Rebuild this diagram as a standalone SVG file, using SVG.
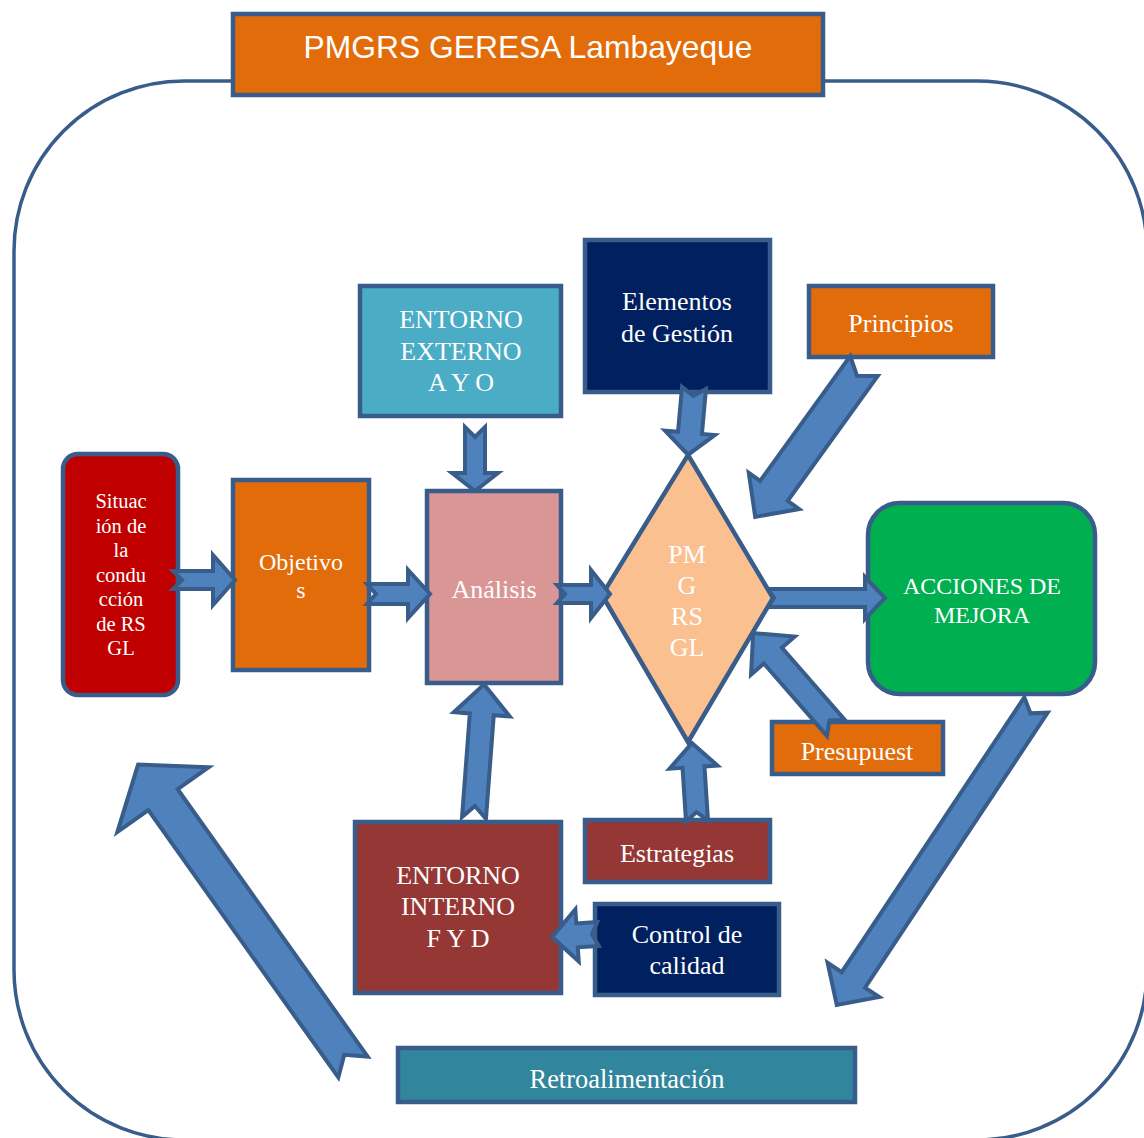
<svg xmlns="http://www.w3.org/2000/svg" width="1144" height="1138" viewBox="0 0 1144 1138">
<style>
.nd{stroke:#385D8A;stroke-width:4.5}
.t{font-family:"Liberation Serif","Times New Roman",serif;fill:#FFFFFF;font-size:26px;text-anchor:middle}
.ar{fill:#4F81BD;stroke:#385D8A;stroke-width:4;stroke-linejoin:miter}
</style>
<rect width="1144" height="1138" fill="#FFFFFF"/>
<rect id="frame" x="14" y="81" width="1133" height="1059" rx="170" ry="170" fill="none" stroke="#385D8A" stroke-width="3.5"/>
<g id="title">
<rect class="nd" x="233" y="14" width="590" height="81" fill="#E36C0A"/>
<text x="528" y="58" style="font-family:'Liberation Sans',Arial,sans-serif;font-size:31.8px;fill:#FFFFFF;text-anchor:middle">PMGRS GERESA Lambayeque</text>
</g>
<g id="situacion">
<rect class="nd" x="63" y="454" width="115" height="241" rx="15" fill="#C00000"/>
<text class="t" style="font-size:20.5px" x="121"><tspan x="121" y="508">Situac</tspan><tspan x="121" y="532.5">ión de</tspan><tspan x="121" y="557">la</tspan><tspan x="121" y="581.5">condu</tspan><tspan x="121" y="606">cción</tspan><tspan x="121" y="630.5">de RS</tspan><tspan x="121" y="655">GL</tspan></text>
</g>
<g id="objetivos">
<rect class="nd" x="233" y="480" width="136" height="190" fill="#E36C0A"/>
<text class="t" style="font-size:24px"><tspan x="301" y="570">Objetivo</tspan><tspan x="301" y="598">s</tspan></text>
</g>
<g id="analisis">
<rect class="nd" x="427" y="491" width="134" height="192" fill="#D99694"/>
<text class="t" x="494" y="598">Análisis</text>
</g>
<g id="entorno-externo">
<rect class="nd" x="360" y="286" width="201" height="130" fill="#4BACC6"/>
<text class="t"><tspan x="461" y="328">ENTORNO</tspan><tspan x="461" y="360">EXTERNO</tspan><tspan x="461" y="391">A Y O</tspan></text>
</g>
<g id="elementos">
<rect class="nd" x="585" y="240" width="185" height="152" fill="#002060"/>
<text class="t"><tspan x="677" y="310">Elementos</tspan><tspan x="677" y="342">de Gestión</tspan></text>
</g>
<g id="principios">
<rect class="nd" x="809" y="286" width="184" height="71" fill="#E36C0A"/>
<text class="t" x="901" y="332">Principios</text>
</g>
<g id="pmgrsgl">
<polygon class="nd" points="688,455 773,598 688,742 602,595" fill="#FAC090" stroke-linejoin="miter"/>
<text class="t"><tspan x="687" y="563">PM</tspan><tspan x="687" y="594">G</tspan><tspan x="687" y="625">RS</tspan><tspan x="687" y="656">GL</tspan></text>
</g>
<g id="acciones">
<rect class="nd" x="868" y="503" width="227" height="191" rx="32" fill="#00B050"/>
<text class="t" style="font-size:24px"><tspan x="982" y="594">ACCIONES DE</tspan><tspan x="982" y="623">MEJORA</tspan></text>
</g>
<g id="presupuesto">
<rect class="nd" x="772" y="722" width="171" height="52" fill="#E36C0A"/>
<text class="t" x="857" y="760">Presupuest</text>
</g>
<g id="estrategias">
<rect class="nd" x="585" y="820" width="185" height="62" fill="#953735"/>
<text class="t" x="677" y="862">Estrategias</text>
</g>
<g id="entorno-interno">
<rect class="nd" x="355" y="822" width="206" height="171" fill="#953735"/>
<text class="t"><tspan x="458" y="884">ENTORNO</tspan><tspan x="458" y="915">INTERNO</tspan><tspan x="458" y="947">F Y D</tspan></text>
</g>
<g id="control">
<rect class="nd" x="595" y="904" width="184" height="91" fill="#002060"/>
<text class="t"><tspan x="687" y="943">Control de</tspan><tspan x="687" y="974">calidad</tspan></text>
</g>
<g id="retroalimentacion">
<rect class="nd" x="398" y="1048" width="457" height="54" fill="#31859C"/>
<text class="t" x="627" y="1088" style="font-size:26.4px">Retroalimentación</text>
</g>
<g id="connectors">
<polygon class="ar" transform="translate(173,580)" points="0,-9 40,-9 40,-25 62,0 40,25 40,9 0,9 9,0"/>
<polygon class="ar" transform="translate(367,594)" points="0,-10 41,-10 41,-24 63,0 41,24 41,10 0,10 9,0"/>
<polygon class="ar" transform="translate(557,594)" points="0,-9 34,-9 34,-24 53,0 34,24 34,9 0,9 8,0"/>
<polygon class="ar" transform="translate(768,598)" points="0,-9 97,-9 97,-21 117,0 97,21 97,9 0,9 6,0"/>
<polygon class="ar" transform="translate(475,427) rotate(90)" points="0,-10 46,-10 46,-23 64,0 46,23 46,10 0,10 10,0"/>
<polygon class="ar" transform="translate(694,388) rotate(95.1)" points="0,-12 45,-12 45,-25 67,0 45,25 45,12 0,12 8,0"/>
<polygon class="ar" transform="translate(864,366) rotate(125.8)" points="0,-17 154,-17 154,-31 186,0 154,31 154,17 0,17 12,0"/>
<polygon class="ar" transform="translate(836,728) rotate(-131.1)" points="0,-12 96,-12 96,-29 126,0 96,29 96,12 0,12 10,0"/>
<polygon class="ar" transform="translate(697,821) rotate(-93.7)" points="0,-11 54,-11 54,-24 78,0 54,24 54,11 0,11 9,0"/>
<polygon class="ar" transform="translate(474,818) rotate(-85.7)" points="0,-12 104,-12 104,-28 134,0 104,28 104,12 0,12 12,0"/>
<polygon class="ar" transform="translate(598,934) rotate(176.3)" points="0,-12 21,-12 21,-26 46,0 21,26 21,12 0,12 6,0"/>
<polygon class="ar" transform="translate(1036,705) rotate(123.6)" points="0,-14 330,-14 330,-31 360,0 330,31 330,14 0,14 10,0"/>
<polygon class="ar" transform="translate(353,1067) rotate(-125.4)" points="0,-18 328,-18 328,-56 371,0 328,56 328,18 0,18 15,0"/>
</g>
</svg>
